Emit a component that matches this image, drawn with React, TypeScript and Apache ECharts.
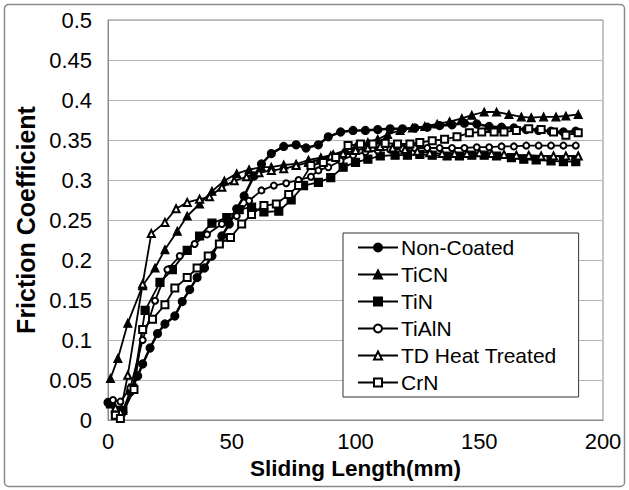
import React, { useEffect, useRef } from "react";
import * as echarts from "echarts";

const seriesNames = ["Non-Coated", "TiCN", "TiN", "TiAlN", "TD Heat Treated", "CrN"];

const nonCoatedX = [0, 4, 6, 9, 12, 14, 17, 20, 23, 27, 30, 33, 36, 39, 42, 46, 49, 52, 55, 59, 62, 66, 71, 76, 80, 85, 89, 94, 99, 104, 109, 114, 119, 124, 129, 134, 139, 144, 149, 154, 159, 164, 169, 174, 179, 184, 189];
const nonCoatedY = [0.022, 0.012, 0.01, 0.035, 0.055, 0.07, 0.09, 0.108, 0.12, 0.13, 0.148, 0.163, 0.178, 0.19, 0.205, 0.23, 0.245, 0.264, 0.28, 0.305, 0.32, 0.333, 0.342, 0.344, 0.34, 0.344, 0.354, 0.36, 0.362, 0.362, 0.363, 0.364, 0.364, 0.365, 0.366, 0.368, 0.369, 0.371, 0.37, 0.367, 0.366, 0.365, 0.363, 0.362, 0.361, 0.36, 0.361];

const ticnX = [1, 4, 8, 14, 19, 23, 28, 32, 37, 42, 47, 52, 57, 62, 66, 71, 76, 81, 86, 91, 96, 100, 105, 109, 113, 118, 123, 128, 133, 138, 143, 147, 152, 157, 162, 167, 171, 176, 181, 185, 190];
const ticnY = [0.052, 0.077, 0.121, 0.168, 0.19, 0.213, 0.236, 0.255, 0.27, 0.286, 0.299, 0.308, 0.313, 0.316, 0.316, 0.319, 0.32, 0.325, 0.328, 0.332, 0.337, 0.341, 0.347, 0.351, 0.357, 0.362, 0.365, 0.367, 0.37, 0.373, 0.377, 0.381, 0.385, 0.385, 0.382, 0.379, 0.378, 0.379, 0.379, 0.38, 0.382];

const tinX = [1, 3, 6, 10, 15, 21, 26, 32, 37, 42, 48, 53, 58, 63, 69, 74, 79, 85, 90, 95, 100, 105, 110, 116, 121, 126, 131, 137, 142, 147, 152, 157, 163, 168, 173, 179, 184, 189];
const tinY = [0.02, 0.006, 0.012, 0.04, 0.137, 0.172, 0.188, 0.212, 0.23, 0.246, 0.253, 0.263, 0.266, 0.26, 0.261, 0.275, 0.293, 0.297, 0.303, 0.316, 0.322, 0.326, 0.33, 0.331, 0.331, 0.332, 0.331, 0.33, 0.33, 0.331, 0.331, 0.33, 0.328, 0.326, 0.325, 0.324, 0.323, 0.323];

const tialnX = [2, 5, 9, 14, 19, 24, 29, 35, 40, 46, 52, 57, 62, 67, 72, 77, 82, 85, 89, 94, 99, 104, 109, 114, 119, 124, 129, 134, 139, 144, 149, 154, 159, 164, 169, 174, 179, 184, 189];
const tialnY = [0.025, 0.023, 0.04, 0.1, 0.149, 0.188, 0.205, 0.22, 0.232, 0.245, 0.255, 0.274, 0.287, 0.293, 0.296, 0.3, 0.304, 0.312, 0.316, 0.324, 0.331, 0.335, 0.337, 0.338, 0.339, 0.34, 0.34, 0.34, 0.34, 0.34, 0.341, 0.341, 0.342, 0.342, 0.343, 0.343, 0.343, 0.343, 0.343];

const tdX = [3, 5, 8, 14, 17.5, 23, 27.5, 32, 37, 41, 46, 51, 56, 61, 66, 71, 76, 81, 86, 90, 95, 100, 105, 110, 115, 120, 125, 130, 135, 140, 145, 150, 155, 160, 165, 170, 175, 180, 185, 190];
const tdY = [0.015, 0.01, 0.056, 0.17, 0.233, 0.247, 0.264, 0.272, 0.276, 0.279, 0.291, 0.299, 0.304, 0.309, 0.312, 0.314, 0.318, 0.322, 0.326, 0.33, 0.333, 0.337, 0.34, 0.342, 0.34, 0.338, 0.336, 0.334, 0.333, 0.333, 0.333, 0.334, 0.333, 0.332, 0.331, 0.331, 0.33, 0.33, 0.33, 0.33];

const crnX = [3, 5, 10.5, 14, 18, 23, 27, 32, 36, 40.5, 45, 49.5, 54, 58, 63, 68, 73, 77, 82, 87, 92, 97, 102, 107, 112, 117, 122, 126, 131, 136, 141, 146, 151, 156, 160, 165, 170, 175, 180, 185, 190];
const crnY = [0.006, 0.002, 0.038, 0.113, 0.126, 0.144, 0.165, 0.178, 0.19, 0.205, 0.22, 0.228, 0.245, 0.257, 0.268, 0.27, 0.282, 0.293, 0.318, 0.322, 0.328, 0.343, 0.345, 0.345, 0.346, 0.345, 0.345, 0.347, 0.349, 0.351, 0.354, 0.359, 0.36, 0.36, 0.36, 0.362, 0.364, 0.363, 0.36, 0.356, 0.359];

const xValues = [nonCoatedX, ticnX, tinX, tialnX, tdX, crnX];
const yValues = [nonCoatedY, ticnY, tinY, tialnY, tdY, crnY];

const symbols = ["circle", "triangle", "rect", "emptyCircle", "emptyTriangle", "emptyRect"];
const symbolSizes = [8, 8, 8, 6, 7, 7];
const lineWidths = [2.5, 1.8, 1.8, 1.8, 1.8, 1.8];

const FONT = "'Liberation Sans', Arial, sans-serif";

export default function App() {
  const ref = useRef<HTMLDivElement>(null);
  useEffect(() => {
    if (!ref.current) return;
    const chart = echarts.init(ref.current, undefined, { renderer: "svg" });
    const series = seriesNames.map((name, i) => ({
      name,
      type: "line",
      data: xValues[i].map((x, j) => [x, yValues[i][j]]),
      symbol: symbols[i],
      symbolSize: symbolSizes[i],
      showSymbol: true,
      lineStyle: { color: "#000", width: lineWidths[i] },
      itemStyle: { color: "#000", borderColor: "#000", borderWidth: 1.2 },
      emphasis: { disabled: true },
    }));
    chart.setOption({
      animation: false,
      backgroundColor: "#fff",
      textStyle: { fontFamily: FONT },
      graphic: [
        {
          type: "rect",
          shape: { x: 4.5, y: 4.5, width: 620, height: 482, r: 4 },
          style: { fill: "none", stroke: "#8a8a8a", lineWidth: 1.5 },
          silent: true,
        },
      ],
      grid: {
        left: 108,
        right: 26,
        top: 20,
        bottom: 70,
        show: true,
        borderColor: "#8a8a8a",
        borderWidth: 1,
      },
      legend: {
        data: seriesNames,
        orient: "vertical",
        left: 343,
        top: 233,
        itemWidth: 40,
        itemHeight: 10,
        itemGap: 6,
        padding: [4, 22, 4, 14],
        backgroundColor: "#fff",
        borderColor: "#333",
        borderWidth: 1,
        borderRadius: 0,
        textStyle: { fontSize: 21, color: "#000", fontFamily: FONT, padding: [0, 0, 0, -2] },
      },
      xAxis: {
        type: "value",
        min: 0,
        max: 200,
        interval: 50,
        name: "Sliding Length(mm)",
        nameLocation: "middle",
        nameGap: 34,
        nameTextStyle: { fontSize: 22.5, fontWeight: "bold", color: "#000", fontFamily: FONT },
        axisLine: { show: true, lineStyle: { color: "#8a8a8a" } },
        axisTick: { show: false },
        axisLabel: { fontSize: 22, color: "#000", margin: 10, fontFamily: FONT },
        splitLine: { show: false },
      },
      yAxis: {
        type: "value",
        min: 0,
        max: 0.5,
        interval: 0.05,
        name: "Friction Coefficient",
        nameLocation: "middle",
        nameGap: 66,
        nameTextStyle: { fontSize: 25, fontWeight: "bold", color: "#000", fontFamily: FONT },
        axisLine: { show: true, lineStyle: { color: "#8a8a8a" } },
        axisTick: { show: false },
        axisLabel: { fontSize: 22, color: "#000", margin: 16, fontFamily: FONT },
        splitLine: { show: true, lineStyle: { color: "#b4b4b4", width: 1 } },
      },
      series,
    });
    return () => chart.dispose();
  }, []);
  return <div ref={ref} style={{ position: "fixed", left: 0, top: 0, width: 629, height: 490 }} />;
}
